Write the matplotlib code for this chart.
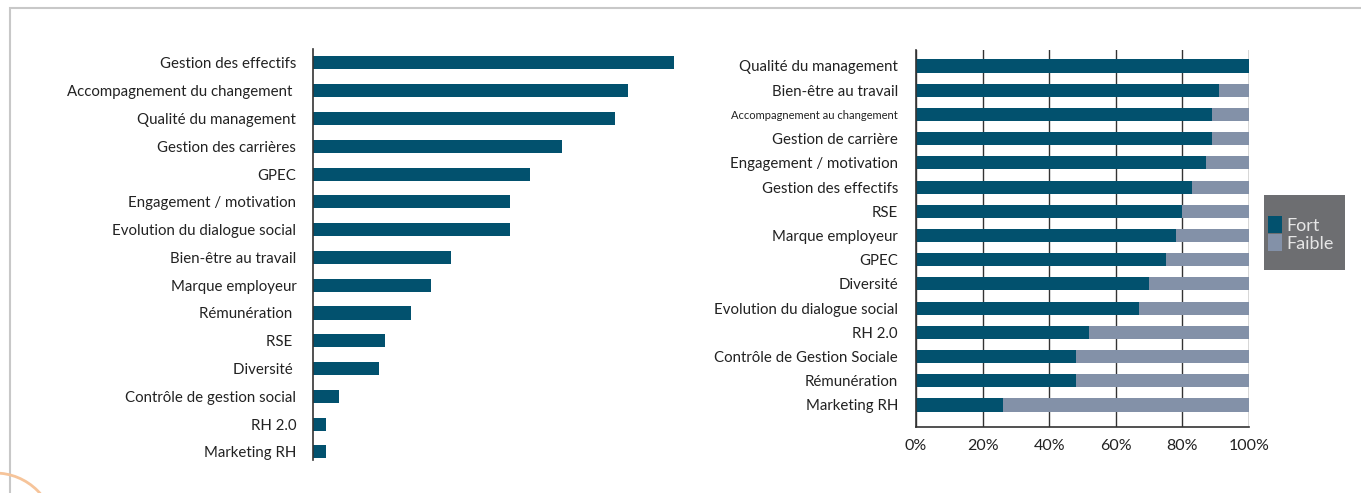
import matplotlib.pyplot as plt
from matplotlib.patches import Rectangle, Arc

plt.rcParams['font.family'] = ['Lato', 'DejaVu Sans']

# left chart: ranking of HR topics
themes = ["Gestion des effectifs", "Accompagnement du changement ", "Qualité du management",
          "Gestion des carrières", "GPEC", "Engagement / motivation",
          "Evolution du dialogue social", "Bien-être au travail", "Marque employeur",
          "Rémunération ", "RSE ", "Diversité ", "Contrôle de gestion social",
          "RH 2.0", "Marketing RH"]
scores = [55, 48, 46, 38, 33, 30, 30, 21, 18, 15, 11, 10, 4, 2, 2]

# right chart: share of strong / weak
sujets = ["Qualité du management", "Bien-être au travail", "Accompagnement au changement",
          "Gestion de carrière", "Engagement / motivation", "Gestion des effectifs",
          "RSE", "Marque employeur", "GPEC", "Diversité", "Evolution du dialogue social",
          "RH 2.0", "Contrôle de Gestion Sociale", "Rémunération", "Marketing RH"]
fort = [100, 91, 89, 89, 87, 83, 80, 78, 75, 70, 67, 52, 48, 48, 26]
faible = [100 - v for v in fort]
pct_ticks = [0, 20, 40, 60, 80, 100]

dark = "#02516e"
light = "#8391a8"
txt = "#222222"

W, H = 1361, 493
fig = plt.figure(figsize=(W / 100, H / 100), dpi=100)

def box(l, t, r, b):
    return [l / W, 1 - b / H, (r - l) / W, (b - t) / H]

# card border and decorative arc
fig.patches.append(Rectangle((10 / W, -0.1), 1.2, 1 - 8 / H + 0.1, transform=fig.transFigure,
                             fill=False, edgecolor="#c8c8c8", lw=1.5))
fig.patches.append(Arc((-5 / W, -40 / H), 120 / W, 120 / H, theta1=0, theta2=90,
                       transform=fig.transFigure, color="#f6c49a", lw=2))

ax1 = fig.add_axes(box(313, 49, 674, 460))
y1 = range(len(themes))
ax1.barh(y1, scores, height=0.47, color=dark)
ax1.set_xlim(0, 55)
ax1.set_ylim(len(themes) - 0.71, -0.5)
ax1.set_yticks(list(y1))
ax1.set_yticklabels(themes, fontsize=10.8, color=txt)
ax1.tick_params(axis="y", length=0, pad=12)
ax1.set_xticks([])
for s in ["top", "right", "bottom"]:
    ax1.spines[s].set_visible(False)
ax1.spines["left"].set_color("#333333")
ax1.spines["left"].set_linewidth(1.2)

ax2 = fig.add_axes(box(916, 50, 1249, 427))
y2 = range(len(sujets))
ax2.barh(y2, fort, height=0.54, color=dark, label="Fort", zorder=2)
ax2.barh(y2, faible, left=fort, height=0.54, color=light, label="Faible", zorder=2)
ax2.set_xlim(0, 100)
ax2.set_ylim(len(sujets) - 0.09, -0.66)
ax2.set_xticks(pct_ticks)
ax2.set_xticklabels([f"{t}%" for t in pct_ticks], fontsize=11.5, color=txt)
ax2.set_yticks(list(y2))
ax2.set_yticklabels(sujets, fontsize=10.8, color=txt)
ax2.get_yticklabels()[2].set_fontsize(8)
ax2.tick_params(axis="y", length=0, pad=13)
ax2.tick_params(axis="x", length=0, pad=9)
ax2.grid(axis="x", color="#333333", lw=1, zorder=3)
for s in ["top", "right"]:
    ax2.spines[s].set_visible(False)
for s in ["left", "bottom"]:
    ax2.spines[s].set_color("#333333")
    ax2.spines[s].set_linewidth(1.2)

# legend on a grey panel
fig.patches.append(Rectangle((1264 / W, 1 - 270 / H), 81 / W, 75 / H,
                             transform=fig.transFigure, facecolor="#6d6e71", edgecolor="none"))
leg = fig.legend(loc="upper left", bbox_to_anchor=(1259 / W, 1 - 207 / H), frameon=False,
                 fontsize=13, handlelength=0.8, handleheight=1.1, handletextpad=0.2,
                 labelspacing=0.0, borderpad=0)
for t in leg.get_texts():
    t.set_color("#e6e6e6")

fig.savefig("out.png", dpi=100, facecolor="white")
